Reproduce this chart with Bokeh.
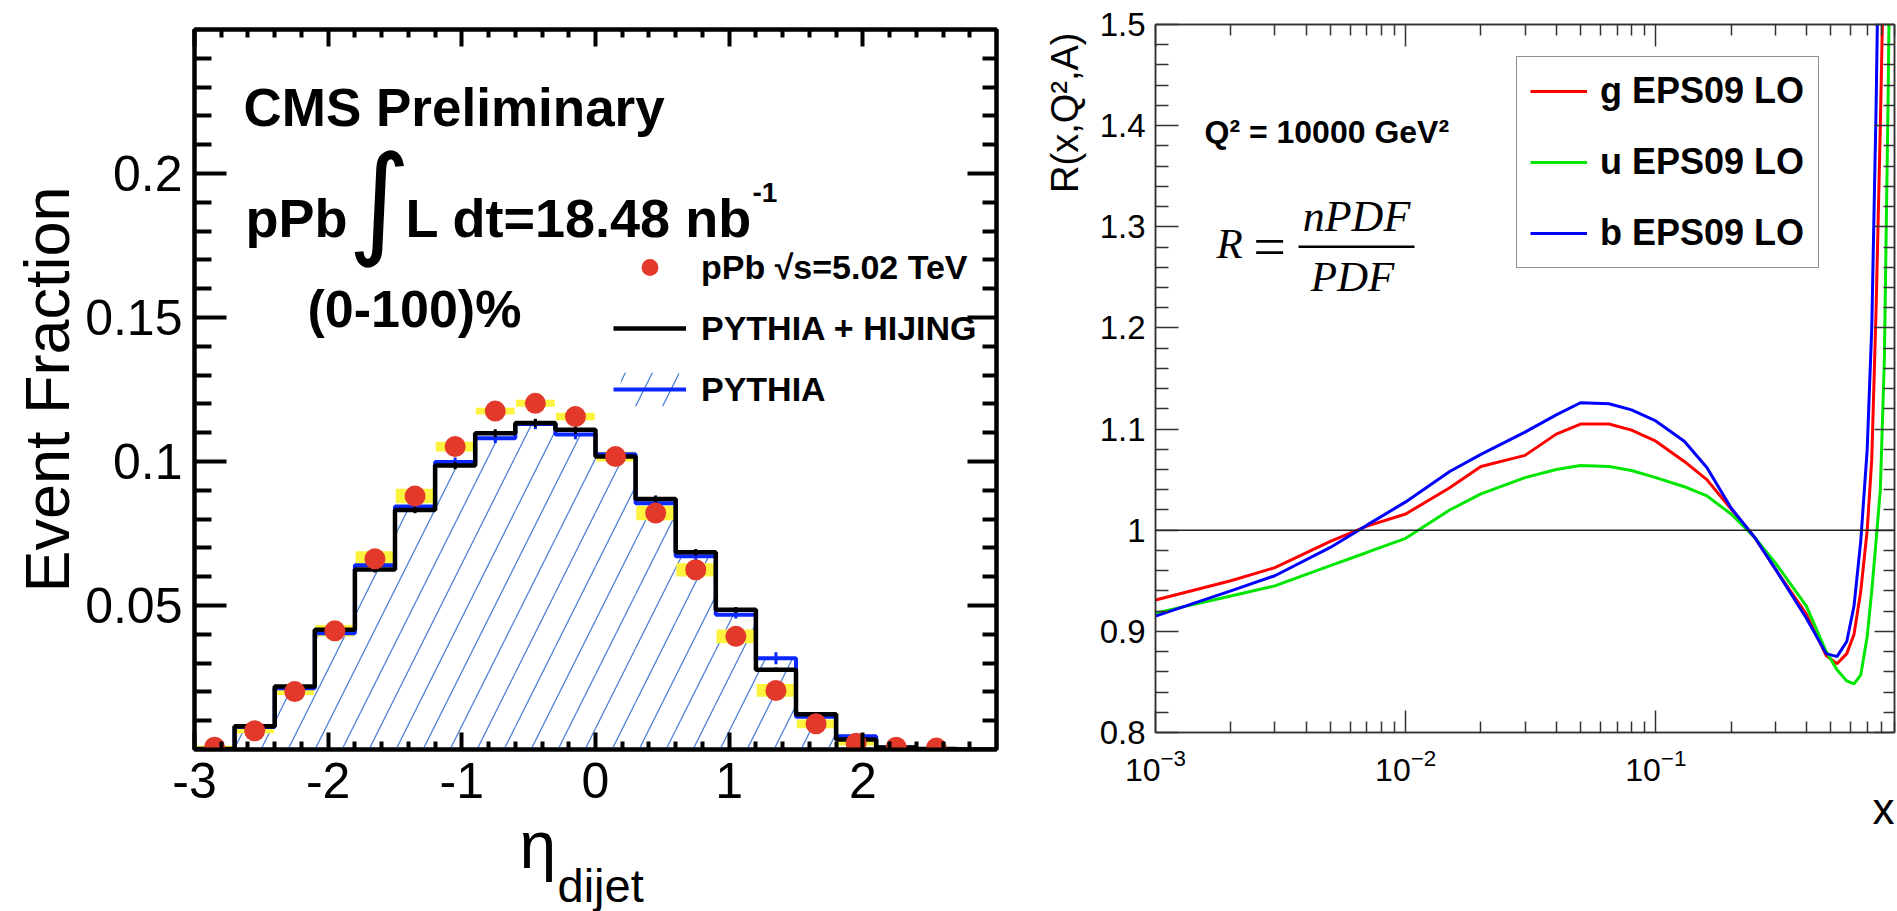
import math
from bokeh.plotting import figure
from bokeh.models import (Range1d, FixedTicker, LinearAxis, Label, Legend, LegendItem,
                          Span, BoxAnnotation, Title)
from bokeh.layouts import row, column
from bokeh.embed import file_html
from bokeh.resources import INLINE

# ------------------------- left panel data -------------------------
bin_edges = [-3.0, -2.7, -2.4, -2.1, -1.8, -1.5, -1.2, -0.9, -0.6, -0.3, 0.0,
             0.3, 0.6, 0.9, 1.2, 1.5, 1.8, 2.1, 2.4, 2.7, 3.0]
pythia_hijing = [0.0002, 0.0081, 0.0219, 0.0416, 0.0625, 0.0832, 0.0986, 0.1098, 0.1134, 0.1110,
                 0.1017, 0.0870, 0.0685, 0.0485, 0.0277, 0.0122, 0.0035, 0.0007, 0.0002, 0.0]
pythia_hijing_err = [0.0, 0.0004, 0.0006, 0.0008, 0.0010, 0.0012, 0.0013, 0.0014, 0.0014, 0.0014,
                     0.0013, 0.0012, 0.0011, 0.0010, 0.0008, 0.0006, 0.0004, 0.0002, 0.0001, 0.0]
pythia = [0.0002, 0.0078, 0.0213, 0.0404, 0.0640, 0.0844, 0.0998, 0.1081, 0.1130, 0.1094,
          0.1025, 0.0855, 0.0671, 0.0468, 0.0317, 0.0114, 0.0046, 0.0007, 0.0002, 0.0]
pythia_err = [0.0, 0.0005, 0.0008, 0.0010, 0.0012, 0.0014, 0.0016, 0.0017, 0.0018, 0.0017,
              0.0016, 0.0015, 0.0014, 0.0013, 0.0021, 0.0010, 0.0006, 0.0003, 0.0001, 0.0]
data_eta = [-2.85, -2.55, -2.25, -1.95, -1.65, -1.35, -1.05, -0.75, -0.45, -0.15,
            0.15, 0.45, 0.75, 1.05, 1.35, 1.65, 1.95, 2.25, 2.55]
data_frac = [0.0008, 0.0065, 0.0201, 0.0412, 0.0662, 0.0880, 0.1052, 0.1175, 0.1202, 0.1156,
             0.1017, 0.0821, 0.0624, 0.0393, 0.0205, 0.0089, 0.0022, 0.0008, 0.0005]
data_sys = [0.0005, 0.0009, 0.0012, 0.0020, 0.0026, 0.0025, 0.0017, 0.0012, 0.0012, 0.0013,
            0.0017, 0.0025, 0.0023, 0.0024, 0.0022, 0.0015, 0.0008, 0.0004, 0.0003]
eta_ticks = [-3, -2, -1, 0, 1, 2]
frac_ticks = [0.05, 0.1, 0.15, 0.2]

# ------------------------- right panel data ------------------------
x_vals = [0.001, 0.002, 0.003, 0.005, 0.007, 0.01, 0.015, 0.02, 0.03, 0.04, 0.05, 0.065,
          0.08, 0.1, 0.13, 0.16, 0.2, 0.25, 0.3, 0.4, 0.48, 0.53, 0.58, 0.62, 0.66, 0.7,
          0.73, 0.76, 0.79, 0.82, 0.85, 0.88, 0.9]
r_g = [0.931, 0.950, 0.963, 0.989, 1.004, 1.016, 1.042, 1.063, 1.074, 1.095, 1.105, 1.105,
       1.099, 1.088, 1.068, 1.050, 1.021, 0.992, 0.962, 0.917, 0.876, 0.868, 0.878, 0.897,
       0.940, 1.000, 1.070, 1.220, 1.400, 1.600, 1.900, 2.200, 2.400]
r_u = [0.918, 0.935, 0.945, 0.965, 0.978, 0.992, 1.020, 1.036, 1.052, 1.060, 1.064, 1.063,
       1.059, 1.052, 1.043, 1.034, 1.016, 0.992, 0.968, 0.925, 0.880, 0.862, 0.851, 0.848,
       0.857, 0.895, 0.940, 0.990, 1.040, 1.170, 1.440, 1.800, 2.100]
r_b = [0.915, 0.940, 0.955, 0.983, 1.005, 1.028, 1.058, 1.075, 1.097, 1.114, 1.126, 1.125,
       1.119, 1.108, 1.088, 1.062, 1.022, 0.992, 0.962, 0.913, 0.878, 0.875, 0.890, 0.925,
       0.990, 1.080, 1.200, 1.420, 1.700, 2.000, 2.300, 2.500, 2.600]
r_ticks = [0.8, 0.9, 1.0, 1.1, 1.2, 1.3, 1.4, 1.5]
r_tick_labels = ["0.8", "0.9", "1", "1.1", "1.2", "1.3", "1.4", "1.5"]
x_major = [1e-3, 1e-2, 1e-1]

FONT = "Liberation Sans"
RED_PT = "#e2392a"
YELLOW = "#fdf23e"
BLUE = "#0a28ff"
HATCH = "#4f7fd6"
AX2 = "#333333"


def style_axis(ax, major_in, minor_in, lw, color, font_size=None, standoff=0):
    ax.major_tick_in = major_in
    ax.major_tick_out = 0
    ax.minor_tick_in = minor_in
    ax.minor_tick_out = 0
    ax.axis_line_width = lw
    ax.major_tick_line_width = lw
    ax.minor_tick_line_width = lw
    ax.axis_line_color = color
    ax.major_tick_line_color = color
    ax.minor_tick_line_color = color
    if font_size:
        ax.major_label_text_font_size = font_size
        ax.major_label_text_font = FONT
        ax.major_label_text_color = "black"
        ax.major_label_standoff = standoff
    else:
        ax.major_label_text_font_size = "1px"
        ax.major_label_text_alpha = 0
        ax.major_label_standoff = 0


def lift(size_px):
    # empirical correction of the rendered baseline position
    return 6 + 0.18 * size_px


# ============================ LEFT FIGURE ============================
FL1, FR1, FB1 = 194, 996, 749  # frame left / right / bottom (page px)


def s1(px, py):
    return px - FL1, FB1 - py


p1 = figure(width=1030, height=826, x_range=Range1d(-3, 3), y_range=Range1d(0, 0.25),
            output_backend="svg", toolbar_location=None,
            min_border_left=194, min_border_right=34, min_border_top=29, min_border_bottom=77)
p1.xgrid.visible = False
p1.ygrid.visible = False
p1.outline_line_color = "black"
p1.outline_line_width = 4
p1.background_fill_color = "white"
p1.border_fill_color = "white"

x_minor = [round(-3 + 0.2 * i, 1) for i in range(31) if i % 5 != 0]
y_minor = [round(0.01 * i, 2) for i in range(1, 25) if i % 5 != 0]

p1.xaxis.ticker = FixedTicker(ticks=eta_ticks, minor_ticks=x_minor)
p1.yaxis.ticker = FixedTicker(ticks=frac_ticks, minor_ticks=y_minor)
style_axis(p1.xaxis[0], 17, 8, 4, "black", "50px", 13)
style_axis(p1.yaxis[0], 32, 17, 4, "black", "50px", 12)
p1.xaxis.major_label_overrides = {t: str(t) for t in eta_ticks}
p1.yaxis.major_label_overrides = {0.05: "0.05", 0.1: "0.1", 0.15: "0.15", 0.2: "0.2"}
p1.yaxis.axis_label = "Event Fraction"
p1.yaxis.axis_label_text_font = FONT
p1.yaxis.axis_label_text_font_size = "63px"
p1.yaxis.axis_label_text_font_style = "normal"
p1.yaxis.axis_label_text_color = "black"
p1.yaxis.axis_label_standoff = 0

top1 = LinearAxis(ticker=FixedTicker(ticks=eta_ticks, minor_ticks=x_minor))
style_axis(top1, 17, 8, 4, "black")
p1.add_layout(top1, "above")
right1 = LinearAxis(ticker=FixedTicker(ticks=frac_ticks, minor_ticks=y_minor))
style_axis(right1, 29, 14, 4, "black")
p1.add_layout(right1, "right")

centers = [(bin_edges[i] + bin_edges[i + 1]) / 2 for i in range(len(bin_edges) - 1)]

hatch_r = p1.quad(left=bin_edges[:-1], right=bin_edges[1:], bottom=0, top=pythia,
                  fill_color="white", fill_alpha=0, line_color=None,
                  hatch_pattern="/", hatch_color=HATCH, hatch_scale=54, hatch_weight=1.3)
p1.rect(x=data_eta, y=data_frac, width=0.29, height=[2 * s for s in data_sys],
        fill_color=YELLOW, line_color=None)
blue_r = p1.step(x=bin_edges, y=pythia + [pythia[-1]], mode="after", line_color=BLUE, line_width=4)
p1.segment(x0=centers, y0=[v - e for v, e in zip(pythia, pythia_err)],
           x1=centers, y1=[v + e for v, e in zip(pythia, pythia_err)], line_color=BLUE, line_width=3)
black_r = p1.step(x=bin_edges, y=pythia_hijing + [pythia_hijing[-1]], mode="after",
                  line_color="black", line_width=4.5)
p1.segment(x0=centers, y0=[v - e for v, e in zip(pythia_hijing, pythia_hijing_err)],
           x1=centers, y1=[v + e for v, e in zip(pythia_hijing, pythia_hijing_err)],
           line_color="black", line_width=3)
red_r = p1.scatter(x=data_eta, y=data_frac, size=21, marker="circle",
                   fill_color=RED_PT, line_color=None)

leg1 = Legend(items=[LegendItem(label="pPb √s=5.02 TeV", renderers=[red_r]),
                     LegendItem(label="PYTHIA + HIJING", renderers=[black_r]),
                     LegendItem(label="PYTHIA", renderers=[hatch_r, blue_r])],
              location=(419, 339), orientation="vertical",
              border_line_color=None, background_fill_alpha=0, padding=0, spacing=19,
              glyph_width=73, glyph_height=42, label_height=42, label_standoff=15,
              label_text_font=FONT, label_text_font_style="bold", label_text_font_size="34px",
              label_text_color="black")
p1.add_layout(leg1, "center")


def add_text(p, conv, px, py, text, size, style="bold", font=FONT, align="left",
             baseline="alphabetic", correct=True):
    size_px = float(size.replace("px", ""))
    if correct:
        py = py - lift(size_px)
    sx, sy = conv(px, py)
    p.add_layout(Label(x=sx, y=sy, x_units="screen", y_units="screen", text=text,
                       text_font=font, text_font_size=size, text_font_style=style,
                       text_color="black", text_align=align, text_baseline=baseline))


add_text(p1, s1, 243, 123, "CMS Preliminary", "53px")
add_text(p1, s1, 245, 233, "pPb", "54px")
add_text(p1, s1, 379, 200, "∫", "121px", style="normal", font="DejaVu Sans", align="center",
         baseline="middle", correct=False)
add_text(p1, s1, 405, 233, "L dt=18.48 nb", "54px")
add_text(p1, s1, 752, 203, "-1", "28px")
add_text(p1, s1, 307, 324, "(0-100)%", "52px")

# strip under the left panel for the x-axis title (eta_dijet); x in page px
STRIP_TOP = 826
strip1 = figure(width=1030, height=911 - STRIP_TOP, x_range=Range1d(FL1, FR1),
                y_range=Range1d(0, 911 - STRIP_TOP), output_backend="svg", toolbar_location=None,
                x_axis_location=None, y_axis_location=None,
                min_border_left=FL1, min_border_right=1030 - FR1, min_border_top=0,
                min_border_bottom=0)
strip1.xgrid.visible = False
strip1.ygrid.visible = False
strip1.outline_line_color = None
strip1.background_fill_color = "white"
strip1.border_fill_color = "white"


def add_strip_text(px, py, text, size):
    size_px = float(size.replace("px", ""))
    strip1.add_layout(Label(x=px, y=911 - (py - lift(size_px)), text=text, text_font=FONT,
                            text_font_size=size, text_font_style="normal", text_color="black",
                            text_align="left", text_baseline="alphabetic"))


add_strip_text(519, 862, "η", "66px")
add_strip_text(557, 899, "dijet", "47px")

# ============================ RIGHT FIGURE ============================
FL2, FB2 = 1147, 732


def s2(px, py):
    return px - FL2, FB2 - py


p2 = figure(width=867, height=911, x_axis_type="log", x_range=Range1d(1e-3, 0.9),
            y_range=Range1d(0.8, 1.5), output_backend="svg", toolbar_location=None,
            min_border_left=117, min_border_right=3, min_border_top=24, min_border_bottom=179)
p2.xgrid.visible = False
p2.ygrid.visible = False
p2.outline_line_color = AX2
p2.outline_line_width = 1.5
p2.background_fill_color = "white"
p2.border_fill_color = "white"

x_minor2 = [m * 10.0 ** e for e in (-3, -2, -1) for m in range(2, 10)]
y_minor2 = [round(0.8 + 0.02 * i, 2) for i in range(36) if i % 5 != 0]
p2.xaxis.ticker = FixedTicker(ticks=x_major, minor_ticks=x_minor2)
p2.yaxis.ticker = FixedTicker(ticks=r_ticks, minor_ticks=y_minor2)
style_axis(p2.xaxis[0], 22, 11, 1.5, AX2, "32px", 16)
style_axis(p2.yaxis[0], 23, 13, 1.5, AX2, "33px", 10)
p2.yaxis.major_label_overrides = dict(zip(r_ticks, r_tick_labels))

top2 = LinearAxis(ticker=FixedTicker(ticks=x_major, minor_ticks=x_minor2))
style_axis(top2, 22, 11, 1.5, AX2)
p2.add_layout(top2, "above")
right2 = LinearAxis(ticker=FixedTicker(ticks=r_ticks, minor_ticks=y_minor2))
style_axis(right2, 20, 11, 1.5, AX2)
p2.add_layout(right2, "right")

p2.add_layout(Title(text="R(x,Q²,A)", align="right", vertical_align="bottom", offset=8,
                    standoff=22, text_font=FONT, text_font_size="38px",
                    text_font_style="normal", text_color="black"), "left")
p2.add_layout(Title(text="x", align="right", vertical_align="top", offset=0, standoff=0,
                    text_font=FONT, text_font_size="44px", text_font_style="normal",
                    text_color="black"), "below")

p2.add_layout(Span(location=1.0, dimension="width", line_color="#222222", line_width=1.5))

g_r = p2.line(x=x_vals, y=r_g, line_color="#ff0000", line_width=3)
u_r = p2.line(x=x_vals, y=r_u, line_color="#00e600", line_width=3)
b_r = p2.line(x=x_vals, y=r_b, line_color="#0000ff", line_width=3)

leg2 = Legend(items=[LegendItem(label="g EPS09 LO", renderers=[g_r]),
                     LegendItem(label="u EPS09 LO", renderers=[u_r]),
                     LegendItem(label="b EPS09 LO", renderers=[b_r])],
              location=(361, 464), orientation="vertical",
              border_line_color="#222222", border_line_width=1.5, background_fill_color="white",
              background_fill_alpha=1, padding=13, spacing=29, glyph_width=57, glyph_height=42,
              label_height=42, label_width=205, label_standoff=13,
              label_text_font=FONT, label_text_font_style="bold", label_text_font_size="36px",
              label_text_color="black")
p2.add_layout(leg2, "center")

add_text(p2, s2, 1196, 143, "Q² = 10000 GeV²", "32px")
add_text(p2, s2, 1208, 257, "R", "43px", style="italic", font="Liberation Serif")
add_text(p2, s2, 1261, 262, "=", "58px", style="normal", font="Liberation Serif", align="center")
add_text(p2, s2, 1348, 230, "nPDF", "44px", style="italic", font="Liberation Serif", align="center")
add_text(p2, s2, 1344, 290, "PDF", "43px", style="italic", font="Liberation Serif", align="center")
bl, bb = s2(1290, 247.5)
br, bt = s2(1406, 245)
p2.add_layout(BoxAnnotation(left=bl, right=br, bottom=bb, top=bt, left_units="screen",
                            right_units="screen", bottom_units="screen", top_units="screen",
                            fill_color="black", fill_alpha=1, line_color=None))

layout = row(column(p1, strip1), p2)
open("out.html", "w").write(file_html(layout, INLINE))
